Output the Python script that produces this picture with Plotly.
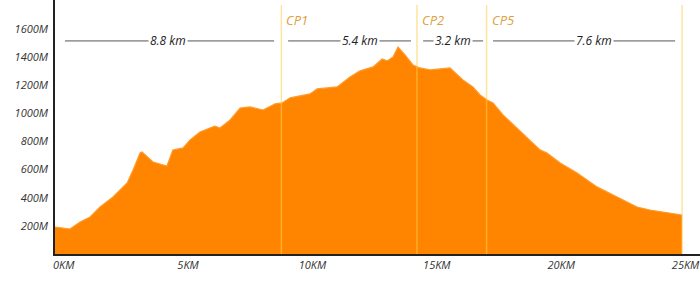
import plotly.graph_objects as go

# ---- data ----
dist_km = [-0.35, 0.25, 0.66, 1.06, 1.46, 1.98, 2.55, 2.79, 3.07, 3.15, 3.59, 4.15, 4.39, 4.80,
           5.08, 5.48, 5.88, 6.08, 6.28, 6.69, 7.09, 7.49, 8.01, 8.50, 8.78, 9.10, 9.90, 10.19,
           10.99, 11.51, 11.91, 12.44, 12.80, 13.00, 13.24, 13.44, 13.72, 14.04, 14.32, 14.73,
           15.53, 16.05, 16.45, 16.74, 17.02, 17.26, 17.66, 18.23, 18.75, 19.15, 19.43, 19.96,
           20.64, 21.44, 22.25, 23.05, 23.57, 24.26, 24.86]
elev_m = [192, 178, 228, 263, 334, 405, 505, 597, 718, 725, 654, 626, 740, 754,
          811, 868, 896, 910, 896, 953, 1038, 1046, 1024, 1067, 1074, 1110, 1138, 1174,
          1188, 1259, 1302, 1330, 1387, 1373, 1401, 1472, 1415, 1344, 1323, 1309,
          1323, 1238, 1188, 1131, 1095, 1074, 989, 896, 811, 740, 718, 647,
          576, 477, 405, 334, 313, 292, 277]

cp_names = ["CP1", "CP2", "CP5", ""]
cp_km = [8.75, 14.2, 17.0, 24.86]

seg_labels = ["8.8 km", "5.4 km", "3.2 km", "7.6 km"]
seg_start = [0.05, 9.02, 14.45, 17.26]
seg_end = [8.46, 13.96, 16.86, 24.58]
seg_text_km = [4.2, 11.9, 15.65, 21.32]
seg_level = 1515

x_tickvals = [0, 5, 10, 15, 20, 25]
x_ticktext = ["0KM", "5KM", "10KM", "15KM", "20KM", "25KM"]
y_tickvals = [200, 400, 600, 800, 1000, 1200, 1400, 1600]
y_ticktext = ["200M", "400M", "600M", "800M", "1000M", "1200M", "1400M", "1600M"]

FONT = "Open Sans"
fig = go.Figure()
fig.add_trace(go.Scatter(x=dist_km, y=elev_m, mode="lines", fill="tozeroy",
                         fillcolor="#FF8500", line=dict(color="#FF9A2A", width=1.2),
                         hoverinfo="skip", showlegend=False))

shapes = []
annotations = []
for name, k in zip(cp_names, cp_km):
    shapes.append(dict(type="line", xref="x", yref="y", x0=k, x1=k, y0=0, y1=1770,
                       line=dict(color="rgba(255,205,80,0.55)", width=1.5), layer="above"))
    if name:
        annotations.append(dict(x=k, y=1665, xref="x", yref="y", text=name, showarrow=False,
                                xanchor="left", xshift=3,
                                font=dict(family=FONT, size=13, color="#DDA040", style="italic")))
for lab, s, e, t in zip(seg_labels, seg_start, seg_end, seg_text_km):
    shapes.append(dict(type="line", xref="x", yref="y", x0=s, x1=e, y0=seg_level, y1=seg_level,
                       line=dict(color="#555555", width=1), layer="above"))
    annotations.append(dict(x=t, y=seg_level, xref="x", yref="y", text=lab, showarrow=False,
                            bgcolor="white", borderpad=1,
                            font=dict(family=FONT, size=12, color="#222222", style="italic")))

fig.update_layout(
    width=700, height=288,
    margin=dict(l=55, r=0, t=0, b=34),
    plot_bgcolor="white", paper_bgcolor="white",
    shapes=shapes, annotations=annotations,
    xaxis=dict(range=[-0.35, 25.58], tickvals=x_tickvals, ticktext=x_ticktext,
               showgrid=False, zeroline=False, showline=True, linecolor="#222222", linewidth=1.5,
               ticks="", fixedrange=True, ticklabeloverflow="allow",
               tickfont=dict(family=FONT, size=11, color="#333333", style="italic")),
    yaxis=dict(range=[0, 1806], tickvals=y_tickvals, ticktext=y_ticktext,
               showgrid=False, zeroline=False, showline=True, linecolor="#222222", linewidth=1.5,
               ticks="", fixedrange=True, ticklabelstandoff=3,
               tickfont=dict(family=FONT, size=11, color="#333333", style="italic")),
)

fig.write_html("out.html")
